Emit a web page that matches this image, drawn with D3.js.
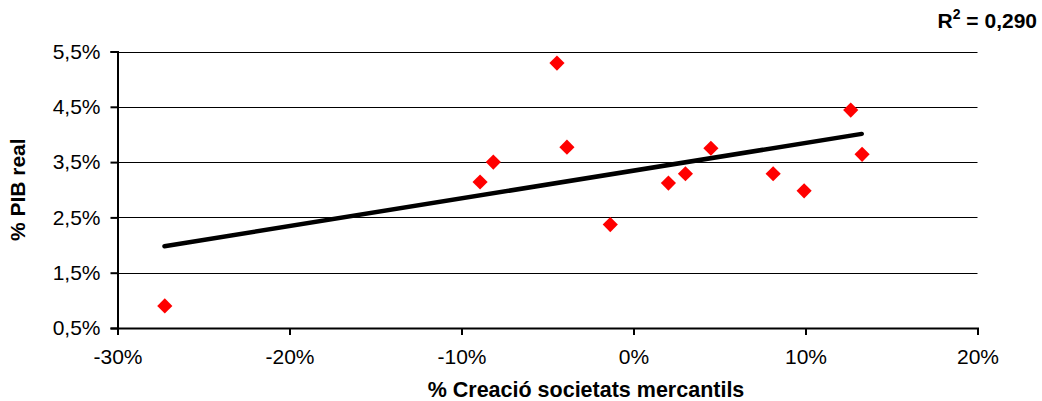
<!DOCTYPE html>
<html><head><meta charset="utf-8">
<script src="https://cdn.jsdelivr.net/npm/d3@7"></script>
<style>body{margin:0;background:#fff}svg{display:block}text{font-family:"Liberation Sans",Arial,sans-serif}</style>
</head><body><svg id="c" width="1042" height="401"></svg>
<script>
const xValues = [-27.25, -8.92, -8.15, -4.45, -3.87, -1.35, 2.03, 3.02, 4.50, 8.12, 9.92, 12.63, 13.29];
const yValues = [0.90, 3.14, 3.50, 5.29, 3.77, 2.37, 3.12, 3.29, 3.75, 3.29, 2.98, 4.44, 3.64];
const trendX = [-27.27, 13.27];
const trendY = [1.98, 4.01];
const xTicks = [-30, -20, -10, 0, 10, 20];
const yTicks = [0.5, 1.5, 2.5, 3.5, 4.5, 5.5];
const xTitle = "% Creació societats mercantils";
const yTitle = "% PIB real";
const r2Text = "0,290";

const svg = d3.select("#c");
const x = d3.scaleLinear().domain([-30, 20]).range([117.5, 977.5]);
const y = d3.scaleLinear().domain([0.5, 5.5]).range([328, 51.5]);
const fmtY = d => d.toFixed(1).replace(".", ",") + "%";
const fmtX = d => d + "%";

// gridlines
svg.append("g").selectAll("line").data(yTicks.slice(1)).join("line")
  .attr("x1", x(-30)).attr("x2", x(20))
  .attr("y1", d => Math.round(y(d)) + 0.5).attr("y2", d => Math.round(y(d)) + 0.5)
  .attr("stroke", "#000").attr("stroke-width", 1);

// y axis
const yAxis = svg.append("g").attr("transform", `translate(${x(-30)},0)`)
  .call(d3.axisLeft(y).tickValues(yTicks).tickFormat(fmtY).tickSize(7).tickPadding(10));
yAxis.select(".domain").attr("stroke", "#000").attr("stroke-width", 2);
yAxis.selectAll(".tick line").attr("stroke-width", 2);
yAxis.selectAll("text").attr("font-size", 21).attr("fill", "#000");

// x axis
const xAxis = svg.append("g").attr("transform", `translate(0,${y(0.5)})`)
  .call(d3.axisBottom(x).tickValues(xTicks).tickFormat(fmtX).tickSize(7).tickPadding(14));
xAxis.select(".domain").attr("stroke", "#000").attr("stroke-width", 2);
xAxis.selectAll(".tick line").attr("stroke-width", 2);
xAxis.selectAll("text").attr("font-size", 21).attr("fill", "#000");

// trend line
svg.append("path")
  .datum(trendX.map((d, i) => [d, trendY[i]]))
  .attr("d", d3.line().x(d => x(d[0])).y(d => y(d[1])))
  .attr("stroke", "#000").attr("stroke-width", 4.5).attr("stroke-linecap", "round").attr("fill", "none");

// points
svg.append("g").selectAll("path").data(xValues.map((d, i) => [d, yValues[i]])).join("path")
  .attr("d", d3.symbol(d3.symbolSquare, 115))
  .attr("transform", d => `translate(${x(d[0])},${y(d[1])}) rotate(45)`)
  .attr("fill", "#ff0000");

// titles
svg.append("text").attr("x", 586).attr("y", 397).attr("text-anchor", "middle")
  .attr("font-size", 21.5).attr("font-weight", "bold").text(xTitle);
svg.append("text").attr("transform", `translate(25,${(y(0.5) + y(5.5)) / 2}) rotate(-90)`)
  .attr("text-anchor", "middle").attr("font-size", 21).attr("font-weight", "bold").text(yTitle);

const r2 = svg.append("text").attr("x", 1037).attr("y", 28).attr("text-anchor", "end")
  .attr("font-size", 21).attr("font-weight", "bold");
r2.append("tspan").text("R");
r2.append("tspan").attr("font-size", 14).attr("dy", -9).text("2");
r2.append("tspan").attr("dy", 9).text(" = " + r2Text);
</script></body></html>
